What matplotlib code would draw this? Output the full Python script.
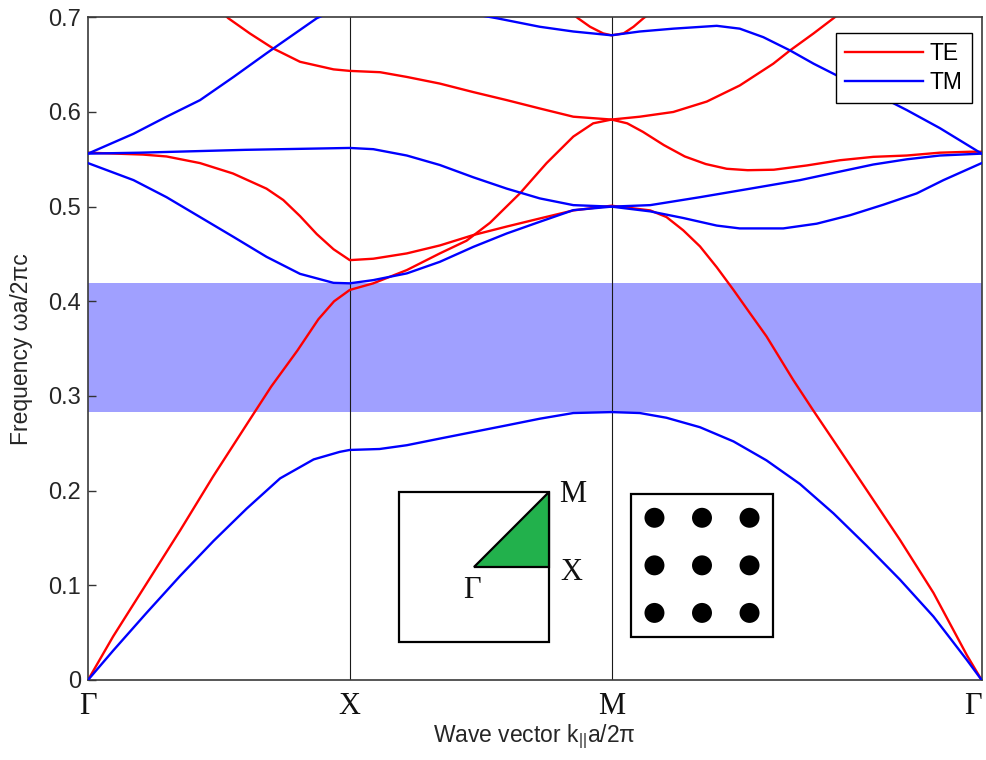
import numpy as np
import matplotlib
matplotlib.use("Agg")
import matplotlib.pyplot as plt
from matplotlib.patches import Rectangle, Polygon, Circle
from matplotlib.lines import Line2D

plt.rcParams["font.family"] = ["Liberation Sans", "DejaVu Sans"]
plt.rcParams["mathtext.default"] = "regular"

# Symmetry points along the Γ–X–M–Γ path (path length in units of 2π/a)
K_X = 0.5
K_M = 1.0
K_END = 1.0 + np.sqrt(2) / 2
path_ticks = [0.0, K_X, K_M, K_END]
path_labels = ["Γ", "X", "M", "Γ"]
freq_ticks = [0.0, 0.1, 0.2, 0.3, 0.4, 0.5, 0.6, 0.7]
freq_labels = ["0", "0.1", "0.2", "0.3", "0.4", "0.5", "0.6", "0.7"]

# ---- TE bands (k along path, frequency ωa/2πc) ----
te1_k = [0.0, 0.048, 0.112, 0.176, 0.239, 0.309, 0.35, 0.40, 0.44, 0.47, 0.5,
         0.545, 0.609, 0.672, 0.723, 0.768, 0.825, 0.876, 0.927, 0.965, 1.0,
         1.03, 1.06, 1.10, 1.14, 1.18, 1.22, 1.26, 1.31, 1.373, 1.436, 1.500, 1.564, 1.627, 1.685, 1.707]
te1_f = [0.0, 0.046, 0.102, 0.158, 0.215, 0.275, 0.310, 0.348, 0.381, 0.400, 0.412,
         0.419, 0.433, 0.4506, 0.464, 0.483, 0.514, 0.546, 0.574, 0.588, 0.592,
         0.588, 0.579, 0.565, 0.553, 0.545, 0.540, 0.5385, 0.539, 0.5435, 0.549, 0.5526, 0.554, 0.557, 0.558, 0.558]

te2_k = [0.0, 0.105, 0.150, 0.214, 0.277, 0.341, 0.373, 0.405, 0.437, 0.469, 0.5,
         0.545, 0.609, 0.672, 0.736, 0.800, 0.863, 0.927, 1.0,
         1.074, 1.105, 1.137, 1.169, 1.201, 1.233, 1.265, 1.296, 1.347, 1.385, 1.424,
         1.487, 1.551, 1.615, 1.679, 1.707]
te2_f = [0.557, 0.555, 0.553, 0.546, 0.535, 0.519, 0.507, 0.490, 0.471, 0.455, 0.4435,
         0.445, 0.4506, 0.459, 0.470, 0.479, 0.4875, 0.496, 0.501,
         0.496, 0.489, 0.475, 0.458, 0.436, 0.412, 0.387, 0.363, 0.317, 0.285, 0.253,
         0.201, 0.148, 0.092, 0.026, 0.0]

te3_k = [0.22, 0.268, 0.309, 0.354, 0.405, 0.469, 0.5, 0.558, 0.609, 0.672, 0.736,
         0.800, 0.863, 0.927, 1.0, 1.054, 1.118, 1.182, 1.245, 1.309, 1.341, 1.386, 1.424, 1.46]
te3_f = [0.725, 0.699, 0.683, 0.667, 0.653, 0.645, 0.6434, 0.642, 0.637, 0.630, 0.621,
         0.6125, 0.6037, 0.595, 0.592, 0.595, 0.600, 0.611, 0.628, 0.651, 0.665, 0.683, 0.699, 0.715]

te4_k = [0.9, 0.936, 0.959, 0.984, 1.0, 1.023, 1.042, 1.061, 1.1]
te4_f = [0.715, 0.699, 0.690, 0.683, 0.681, 0.683, 0.690, 0.699, 0.715]

# ---- TM bands ----
tm1_k = [0.0, 0.048, 0.112, 0.176, 0.240, 0.303, 0.367, 0.431, 0.481, 0.5,
         0.557, 0.609, 0.672, 0.736, 0.800, 0.863, 0.927, 1.0,
         1.054, 1.105, 1.169, 1.233, 1.296, 1.360, 1.424, 1.487, 1.551, 1.615, 1.679, 1.707]
tm1_f = [0.0, 0.031, 0.071, 0.110, 0.147, 0.181, 0.213, 0.233, 0.241, 0.243,
         0.244, 0.248, 0.255, 0.262, 0.269, 0.276, 0.282, 0.283,
         0.282, 0.277, 0.267, 0.252, 0.232, 0.207, 0.176, 0.142, 0.106, 0.067, 0.021, 0.0]

tm2_k = [0.0, 0.087, 0.150, 0.214, 0.278, 0.341, 0.405, 0.469, 0.5,
         0.545, 0.609, 0.672, 0.736, 0.800, 0.863, 0.927, 1.0,
         1.074, 1.137, 1.201, 1.245, 1.328, 1.392, 1.456, 1.519, 1.583, 1.634, 1.707]
tm2_f = [0.546, 0.528, 0.510, 0.489, 0.468, 0.447, 0.429, 0.4195, 0.419,
         0.4224, 0.4295, 0.4417, 0.4575, 0.4717, 0.484, 0.4963, 0.500,
         0.495, 0.488, 0.480, 0.477, 0.477, 0.482, 0.491, 0.502, 0.514, 0.528, 0.546]

tm3_k = [0.0, 0.1, 0.2, 0.3, 0.4, 0.5,
         0.545, 0.609, 0.672, 0.736, 0.800, 0.863, 0.927, 1.0,
         1.074, 1.169, 1.265, 1.360, 1.436, 1.500, 1.564, 1.627, 1.707]
tm3_f = [0.556, 0.557, 0.5585, 0.560, 0.561, 0.562,
         0.5607, 0.554, 0.544, 0.531, 0.519, 0.5087, 0.5016, 0.500,
         0.5016, 0.510, 0.519, 0.528, 0.537, 0.5445, 0.550, 0.554, 0.556]

tm4_k = [0.0, 0.087, 0.150, 0.214, 0.278, 0.341, 0.437, 0.5, 0.6, 0.7, 0.781, 0.863, 0.927, 1.0,
         1.054, 1.118, 1.201, 1.245, 1.290, 1.341, 1.386, 1.436, 1.500, 1.564, 1.627, 1.707]
tm4_f = [0.556, 0.577, 0.595, 0.6125, 0.637, 0.662, 0.699, 0.715, 0.714, 0.707, 0.699, 0.690, 0.685, 0.681,
         0.685, 0.688, 0.691, 0.688, 0.679, 0.665, 0.651, 0.637, 0.620, 0.602, 0.583, 0.556]

te_bands = [(te1_k, te1_f), (te2_k, te2_f), (te3_k, te3_f), (te4_k, te4_f)]
tm_bands = [(tm1_k, tm1_f), (tm2_k, tm2_f), (tm3_k, tm3_f), (tm4_k, tm4_f)]

TE_COLOR = "#ff0000"
TM_COLOR = "#0000ff"
GAP_COLOR = "#a0a0ff"
LW = 1.7

W, H = 987, 760
fig = plt.figure(figsize=(W / 100, H / 100), dpi=100)
ax = fig.add_axes([88 / W, 80 / H, 893.7 / W, 662.7 / H])
ax.set_xlim(0, K_END)
ax.set_ylim(0, 0.7)

# TM photonic band gap between first and second TM bands
gap_lo = max(tm1_f)
gap_hi = min(tm2_f)
ax.axhspan(gap_lo, gap_hi, color=GAP_COLOR, lw=0, zorder=0)

for xv in (K_X, K_M):
    ax.axvline(xv, color="#1a1a1a", lw=0.8, zorder=1)

for k, f in te_bands:
    ax.plot(k, f, color=TE_COLOR, lw=LW, zorder=2, solid_joinstyle="round")
for k, f in tm_bands:
    ax.plot(k, f, color=TM_COLOR, lw=LW, zorder=3, solid_joinstyle="round")

ax.set_xticks(path_ticks)
ax.set_xticklabels(path_labels, fontfamily="Liberation Serif", fontsize=22)
ax.tick_params(axis="x", length=0, pad=9, colors="#111111")
ax.get_xticklabels()[-1].set_horizontalalignment("right")
ax.set_yticks(freq_ticks)
ax.set_yticklabels(freq_labels, fontsize=17)
ax.tick_params(axis="y", direction="in", length=6, width=1.0, pad=5,
               color="#333333", labelcolor="#262626")
for sp in ax.spines.values():
    sp.set_color("#3a3a3a")
    sp.set_linewidth(1.2)

ax.set_xlabel("Wave vector k$_{||}$a/2π", fontsize=16.5, color="#262626")
ax.xaxis.set_label_coords(0.5, (680 - 742) / 662.7)
ax.xaxis.label.set_va("baseline")
ax.set_ylabel("Frequency ωa/2πc", fontsize=16.5, color="#262626")
ax.yaxis.set_label_coords(-0.062, 0.5)

handles = [Line2D([], [], color=TE_COLOR, lw=LW), Line2D([], [], color=TM_COLOR, lw=LW)]
leg = ax.legend(handles, ["TE", "TM"], loc="upper right",
                bbox_to_anchor=((971.7 - 88) / 893.7, (680 - 32.7) / 662.7),
                borderaxespad=0, fontsize=16.5, handlelength=3.4, handletextpad=0.3,
                borderpad=0.4, labelspacing=0.25, fancybox=False, framealpha=1,
                edgecolor="black")
leg.get_frame().set_linewidth(1.0)

# Inset: first Brillouin zone with the irreducible wedge
bz = fig.add_axes([399.3 / W, (H - 641.7) / H, 150 / W, 150 / H])
bz.set_xlim(-0.5, 0.5)
bz.set_ylim(-0.5, 0.5)
bz.axis("off")
bz.add_patch(Rectangle((-0.5, -0.5), 1, 1, fc="white", ec="black", lw=1.6, clip_on=False))
bz.add_patch(Polygon([(0, 0), (0.5, 0), (0.5, 0.5)], closed=True, fc="#22b14c",
                     ec="black", lw=1.6, clip_on=False, joinstyle="miter"))
serif = dict(fontfamily="Liberation Serif", fontsize=22, ha="center", va="baseline", color="#111111")
bz.text(0.655, 0.433, "M", **serif)
bz.text(0.647, -0.089, "X", **serif)
bz.text(-0.017, -0.211, "Γ", **serif)

# Inset: square lattice of dielectric rods (r = 0.2a)
lat = fig.add_axes([630.7 / W, (H - 636.7) / H, 142.6 / W, 142.7 / H])
lat.set_xlim(0, 3)
lat.set_ylim(0, 3)
lat.axis("off")
lat.add_patch(Rectangle((0, 0), 3, 3, fc="white", ec="black", lw=1.6, clip_on=False))
for i in range(3):
    for j in range(3):
        lat.add_patch(Circle((i + 0.5, j + 0.5), 0.21, fc="black", ec="none"))

fig.savefig("out.png", dpi=100)
